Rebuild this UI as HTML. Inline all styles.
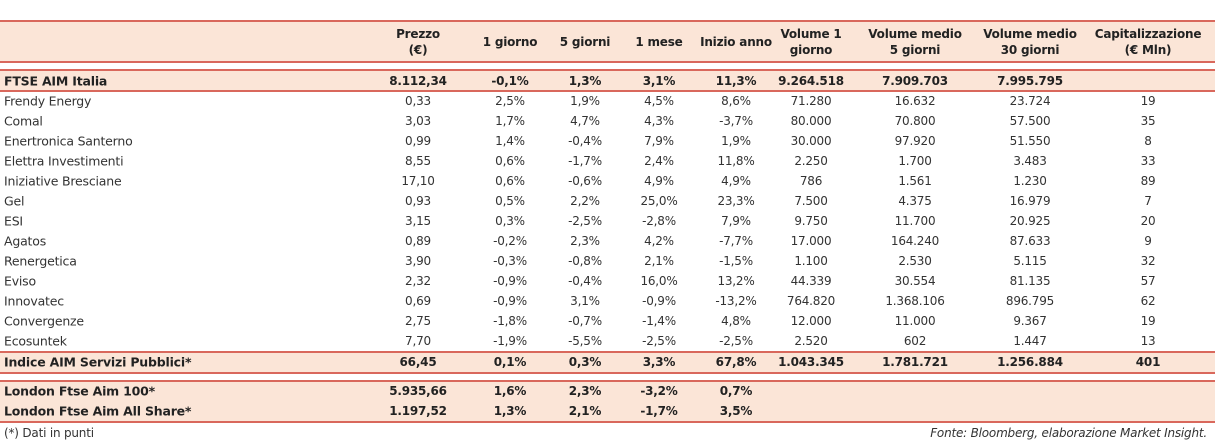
<!DOCTYPE html>
<html><head><meta charset="utf-8"><style>
body{margin:0;width:1215px;height:443px;background:#fff;position:relative;overflow:hidden;font-family:"DejaVu Sans","Liberation Sans",sans-serif;color:#333}
.band{position:absolute;left:0;width:1215px;background:#fbe5d7}
.ln{position:absolute;left:0;width:1215px;height:2px;background:#d9685c}
.t{position:absolute;font-size:12px;white-space:nowrap;transform:translate(-50%,-50%);letter-spacing:-0.2px}
.l{position:absolute;font-size:12.5px;white-space:nowrap;transform:translateY(-50%);left:4px;letter-spacing:-0.2px}
.b{font-weight:bold;color:#222}
.h{font-weight:bold;color:#222;text-align:center;line-height:16px;font-size:12px}
</style></head><body>
<div class="band" style="top:21px;height:41px"></div>
<div class="band" style="top:70px;height:21px"></div>
<div class="band" style="top:352px;height:21px"></div>
<div class="band" style="top:381px;height:41px"></div>
<div class="ln" style="top:20px"></div>
<div class="ln" style="top:61px"></div>
<div class="ln" style="top:69px"></div>
<div class="ln" style="top:90px"></div>
<div class="ln" style="top:351px"></div>
<div class="ln" style="top:372px"></div>
<div class="ln" style="top:380px"></div>
<div class="ln" style="top:421px"></div>
<div class="l" style="top:433px;font-size:12px">(*) Dati in punti</div>
<div class="l" style="top:433px;left:auto;right:8px;font-style:italic;font-size:12px;transform:translateY(-50%)">Fonte: Bloomberg, elaborazione Market Insight.</div>
<div id="root"></div>
<script>
const cols=[418,510,585,659,736,811,915,1030,1148];
const headers=["Prezzo<br>(€)","1 giorno","5 giorni","1 mese","Inizio anno","Volume 1<br>giorno","Volume medio<br>5 giorni","Volume medio<br>30 giorni","Capitalizzazione<br>(€ Mln)"];
const names=["FTSE AIM Italia","Frendy Energy","Comal","Enertronica Santerno","Elettra Investimenti","Iniziative Bresciane","Gel","ESI","Agatos","Renergetica","Eviso","Innovatec","Convergenze","Ecosuntek","Indice AIM Servizi Pubblici*","London Ftse Aim 100*","London Ftse Aim All Share*"];
const rowsY=[81,101,121,141,161,181,201,221,241,261,281,301,321,341,362,391,411];
const values=[
["8.112,34","-0,1%","1,3%","3,1%","11,3%","9.264.518","7.909.703","7.995.795",""],
["0,33","2,5%","1,9%","4,5%","8,6%","71.280","16.632","23.724","19"],
["3,03","1,7%","4,7%","4,3%","-3,7%","80.000","70.800","57.500","35"],
["0,99","1,4%","-0,4%","7,9%","1,9%","30.000","97.920","51.550","8"],
["8,55","0,6%","-1,7%","2,4%","11,8%","2.250","1.700","3.483","33"],
["17,10","0,6%","-0,6%","4,9%","4,9%","786","1.561","1.230","89"],
["0,93","0,5%","2,2%","25,0%","23,3%","7.500","4.375","16.979","7"],
["3,15","0,3%","-2,5%","-2,8%","7,9%","9.750","11.700","20.925","20"],
["0,89","-0,2%","2,3%","4,2%","-7,7%","17.000","164.240","87.633","9"],
["3,90","-0,3%","-0,8%","2,1%","-1,5%","1.100","2.530","5.115","32"],
["2,32","-0,9%","-0,4%","16,0%","13,2%","44.339","30.554","81.135","57"],
["0,69","-0,9%","3,1%","-0,9%","-13,2%","764.820","1.368.106","896.795","62"],
["2,75","-1,8%","-0,7%","-1,4%","4,8%","12.000","11.000","9.367","19"],
["7,70","-1,9%","-5,5%","-2,5%","-2,5%","2.520","602","1.447","13"],
["66,45","0,1%","0,3%","3,3%","67,8%","1.043.345","1.781.721","1.256.884","401"],
["5.935,66","1,6%","2,3%","-3,2%","0,7%","","","",""],
["1.197,52","1,3%","2,1%","-1,7%","3,5%","","","",""]];
const bold=[0,14,15,16];
const root=document.getElementById('root');
headers.forEach((h,i)=>{const d=document.createElement('div');d.className='t h';d.style.left=cols[i]+'px';d.style.top='42px';d.innerHTML=h;


root.appendChild(d);});
names.forEach((n,r)=>{const b=bold.includes(r);
const d=document.createElement('div');d.className='l'+(b?' b':'');d.style.top=rowsY[r]+'px';d.textContent=n;


root.appendChild(d);
values[r].forEach((v,c)=>{if(!v)return;const e=document.createElement('div');e.className='t'+(b?' b':'');e.style.left=cols[c]+'px';e.style.top=rowsY[r]+'px';e.textContent=v;


root.appendChild(e);});});
</script>
</body></html>
